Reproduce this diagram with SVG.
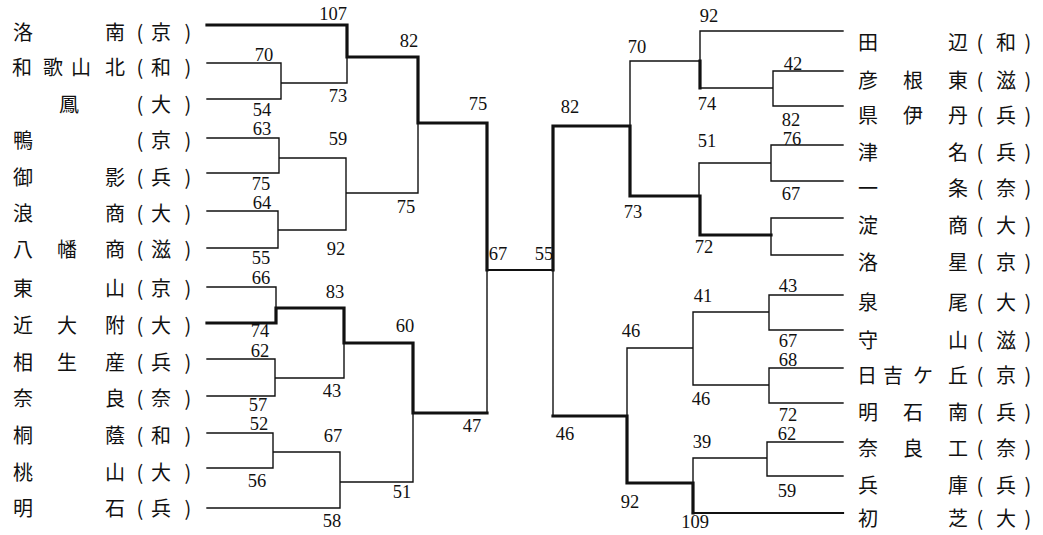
<svg xmlns="http://www.w3.org/2000/svg" width="1043" height="535" viewBox="0 0 1043 535">
<style>
.bg{fill:#fff}
.n{font-family:"Noto Sans CJK JP","Noto Sans CJK SC",sans-serif;font-size:20px;fill:#111;text-anchor:middle}
.s{font-family:"Liberation Serif",serif;font-size:18.5px;fill:#111;text-anchor:middle}
.t{fill:none;stroke:#111;stroke-width:1.4;stroke-linecap:square}
.k{fill:none;stroke:#111;stroke-width:3.2;stroke-linecap:square}
.m{fill:none;stroke:#111;stroke-width:2.2;stroke-linecap:square}
</style>
<rect class="bg" width="1043" height="535"/>
<g id="connectors">
<path class="t" d="M207 63H281V99H207M281 83H347V57M207 138H279V173H207M207 211H278V248H207M279 158H346V230H278M346 193H418V123M207 287H276V308M207 359H275V396H207M275 378H344V343M207 433H273V468H207M273 452H340V508H207M340 482H413V413M487 270V413"/>
<path class="k" d="M207 25H347V57H418V123H487V270M207 323H276V308H344V343H413V413H487"/>
<path class="m" d="M487 270H553"/>
<path class="t" d="M553 270V416M630 126V61H700V31H843M700 88H773V71H843M773 88V106H843M699 196V163H771V145H843M771 163V181H843M771 235V218H843M771 235V255H843M627 416V348H693V312H769V295H843M769 312V330H843M693 348V385H769V368H843M769 385V403H843M693 483V458H767V442H843M767 458V476H843"/>
<path class="k" d="M553 270V126H630V196H700V235H771M700 61V88M553 416H627V483H693V513M630 196H699"/>
<path class="m" d="M693 513H843"/>
</g>
<g id="scores">
<text class="s" x="333" y="20">107</text>
<text class="s" x="264" y="61">70</text>
<text class="s" x="262" y="116">54</text>
<text class="s" x="338" y="102">73</text>
<text class="s" x="409" y="47">82</text>
<text class="s" x="478" y="110">75</text>
<text class="s" x="262" y="135">63</text>
<text class="s" x="261" y="190">75</text>
<text class="s" x="262" y="209">64</text>
<text class="s" x="261" y="264">55</text>
<text class="s" x="338" y="145">59</text>
<text class="s" x="336" y="255">92</text>
<text class="s" x="406" y="213">75</text>
<text class="s" x="261" y="284">66</text>
<text class="s" x="260" y="337">74</text>
<text class="s" x="260" y="357">62</text>
<text class="s" x="258" y="411">57</text>
<text class="s" x="259" y="430">52</text>
<text class="s" x="257" y="487">56</text>
<text class="s" x="335" y="298">83</text>
<text class="s" x="332" y="397">43</text>
<text class="s" x="333" y="442">67</text>
<text class="s" x="332" y="527">58</text>
<text class="s" x="405" y="332">60</text>
<text class="s" x="402" y="498">51</text>
<text class="s" x="472" y="432">47</text>
<text class="s" x="498" y="260">67</text>
<text class="s" x="544" y="260">55</text>
<text class="s" x="570" y="113">82</text>
<text class="s" x="637" y="53">70</text>
<text class="s" x="633" y="218">73</text>
<text class="s" x="709" y="22">92</text>
<text class="s" x="707" y="110">74</text>
<text class="s" x="793" y="70">42</text>
<text class="s" x="791" y="126">82</text>
<text class="s" x="707" y="147">51</text>
<text class="s" x="792" y="145">76</text>
<text class="s" x="791" y="200">67</text>
<text class="s" x="704" y="253">72</text>
<text class="s" x="788" y="292">43</text>
<text class="s" x="703" y="302">41</text>
<text class="s" x="631" y="337">46</text>
<text class="s" x="788" y="347">67</text>
<text class="s" x="788" y="366">68</text>
<text class="s" x="701" y="405">46</text>
<text class="s" x="788" y="421">72</text>
<text class="s" x="565" y="440">46</text>
<text class="s" x="787" y="440">62</text>
<text class="s" x="702" y="448">39</text>
<text class="s" x="787" y="497">59</text>
<text class="s" x="630" y="508">92</text>
<text class="s" x="695" y="528">109</text>
</g>
<g id="team-l1"><text class="n" x="23 115 140 161 188" y="40">洛南(京)</text></g>
<g id="team-l2"><text class="n" x="22 53 81 115 140 161 188" y="75">和歌山北(和)</text></g>
<g id="team-l3"><text class="n" x="69 140 161 188" y="112">鳳(大)</text></g>
<g id="team-l4"><text class="n" x="23 140 161 188" y="148">鴨(京)</text></g>
<g id="team-l5"><text class="n" x="23 115 140 161 188" y="185">御影(兵)</text></g>
<g id="team-l6"><text class="n" x="23 115 140 161 188" y="221">浪商(大)</text></g>
<g id="team-l7"><text class="n" x="23 67 115 140 161 188" y="257">八幡商(滋)</text></g>
<g id="team-l8"><text class="n" x="23 115 140 161 188" y="296">東山(京)</text></g>
<g id="team-l9"><text class="n" x="23 67 115 140 161 188" y="333">近大附(大)</text></g>
<g id="team-l10"><text class="n" x="23 67 115 140 161 188" y="370">相生産(兵)</text></g>
<g id="team-l11"><text class="n" x="23 115 140 161 188" y="406">奈良(奈)</text></g>
<g id="team-l12"><text class="n" x="23 115 140 161 188" y="443">桐蔭(和)</text></g>
<g id="team-l13"><text class="n" x="23 115 140 161 188" y="480">桃山(大)</text></g>
<g id="team-l14"><text class="n" x="23 115 140 161 188" y="516">明石(兵)</text></g>
<g id="team-r1"><text class="n" x="868 958 980 1006 1028" y="50">田辺(和)</text></g>
<g id="team-r2"><text class="n" x="868 913 958 980 1006 1028" y="88">彦根東(滋)</text></g>
<g id="team-r3"><text class="n" x="868 913 958 980 1006 1028" y="123">県伊丹(兵)</text></g>
<g id="team-r4"><text class="n" x="868 958 980 1006 1028" y="160">津名(兵)</text></g>
<g id="team-r5"><text class="n" x="868 958 980 1006 1028" y="196">一条(奈)</text></g>
<g id="team-r6"><text class="n" x="868 958 980 1006 1028" y="233">淀商(大)</text></g>
<g id="team-r7"><text class="n" x="868 958 980 1006 1028" y="270">洛星(京)</text></g>
<g id="team-r8"><text class="n" x="868 958 980 1006 1028" y="310">泉尾(大)</text></g>
<g id="team-r9"><text class="n" x="868 958 980 1006 1028" y="348">守山(滋)</text></g>
<g id="team-r10"><text class="n" x="867 893 923 958 980 1006 1028" y="383">日吉ケ丘(京)</text></g>
<g id="team-r11"><text class="n" x="868 913 958 980 1006 1028" y="420">明石南(兵)</text></g>
<g id="team-r12"><text class="n" x="868 913 958 980 1006 1028" y="456">奈良工(奈)</text></g>
<g id="team-r13"><text class="n" x="868 958 980 1006 1028" y="493">兵庫(兵)</text></g>
<g id="team-r14"><text class="n" x="868 958 980 1006 1028" y="526">初芝(大)</text></g>
</svg>
